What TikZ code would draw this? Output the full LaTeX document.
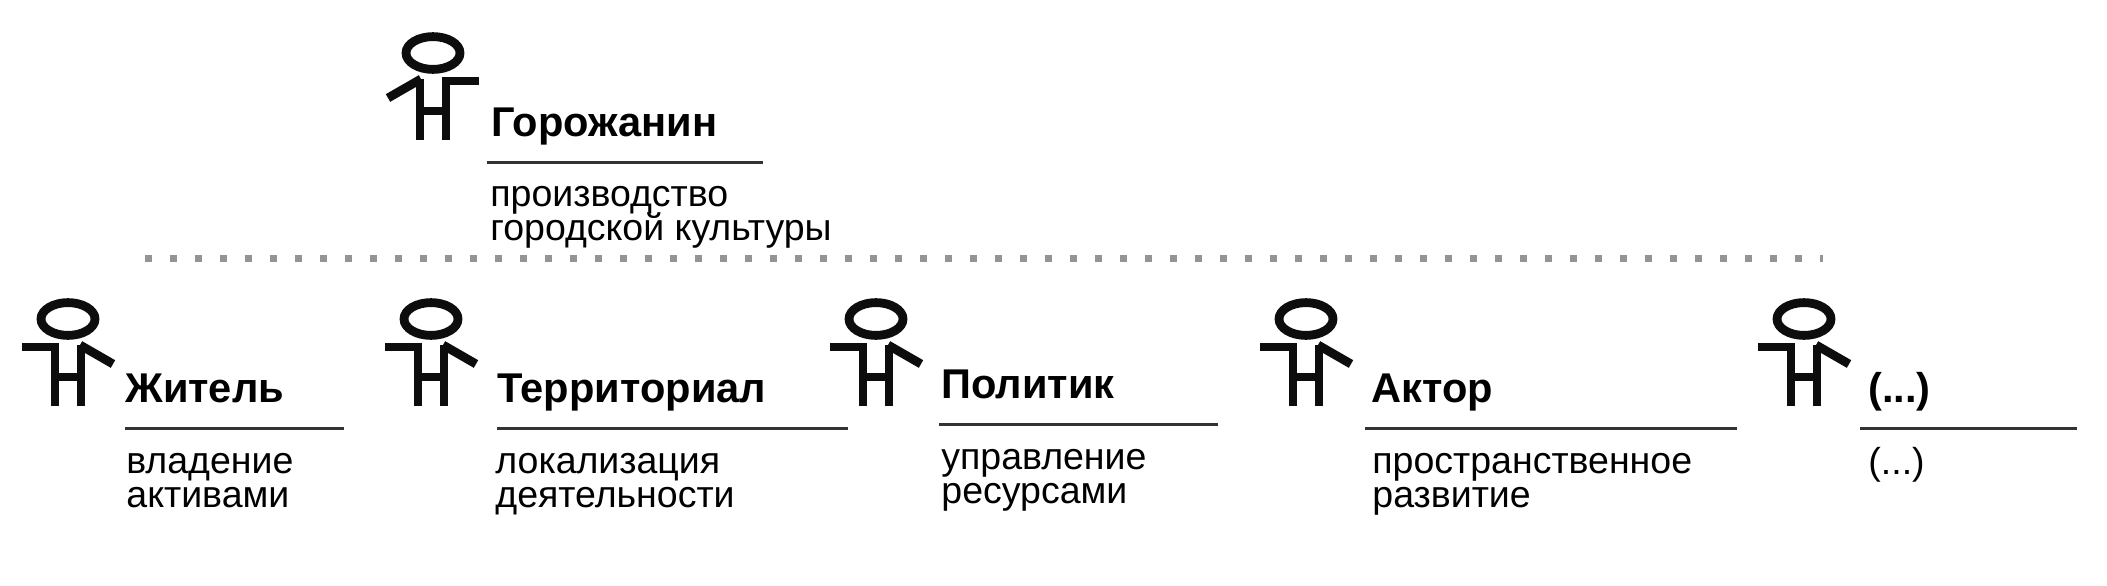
\documentclass[tikz,border=0pt]{standalone}
\usepackage{fontspec}
\setmainfont{Liberation Sans}
\setlength{\lineskiplimit}{-20pt}
\tikzset{
  x=0.5pt,y=-0.5pt,
  figline/.style={line width=4.4pt,line cap=butt,line join=miter,color=black!95},
  titletext/.style={anchor=base west,inner sep=0pt,font=\fontsize{20.8}{20}\selectfont\bfseries},
  bodytext/.style={anchor=base west,inner sep=0pt,align=left,font=\fontsize{18.75}{16.6}\selectfont},
  rulelne/.style={line width=1.5pt,color=black!80},
  sep/.style={line width=3.5pt,color=black!42,dash pattern=on 3.5pt off 9pt},
  pics/person/.style={code={
    \draw[figline] (0,0) ellipse [x radius=13.5pt,y radius=8.2pt];
    \draw[figline] (-13,26) -- (-13,87) (13,26) -- (13,87) (-13,58) -- (13,58);
    \draw[figline] (-46,28) -- (-9,28);
    \draw[figline] (12,26) -- (45,45);
  }}
}
\begin{document}
\begin{tikzpicture}
\useasboundingbox (0,0) rectangle (2107,585);
\fill[white] (0,0) rectangle (2107,585);
\coordinate (sepA) at (145,258); \coordinate (sepB) at (1823,258);
\draw[sep] (sepA) -- (sepB);
% figures
\pic[xscale=-1] (f0) at (433,53) {person};
\pic (f1) at (68,319) {person};
\pic (f2) at (431,319) {person};
\pic (f3) at (876,319) {person};
\pic (f4) at (1306,319) {person};
\pic (f5) at (1804,319) {person};
% titles
\node[titletext] (t0) at (491,136) {Горожанин};
\node[titletext] (t1) at (125,402) {Житель};
\node[titletext] (t2) at (497,402) {Территориал};
\node[titletext] (t3) at (941,398) {Политик};
\node[titletext] (t4) at (1371,402) {Актор};
\node[titletext] (t5) at (1868,402) {(...)};
% rules
\coordinate (r0a) at (487,162); \coordinate (r0b) at (763,162);
\coordinate (r1a) at (125,428); \coordinate (r1b) at (344,428);
\coordinate (r2a) at (497,428); \coordinate (r2b) at (848,428);
\coordinate (r3a) at (939,424); \coordinate (r3b) at (1218,424);
\coordinate (r4a) at (1365,428); \coordinate (r4b) at (1737,428);
\coordinate (r5a) at (1860,428); \coordinate (r5b) at (2077,428);
\foreach \i in {0,...,5} \draw[rulelne] (r\i a) -- (r\i b);
% bodies
\node[bodytext] (b0) at (490,240) {производство\\городской культуры};
\node[bodytext] (b1) at (126,507) {владение\\активами};
\node[bodytext] (b2) at (495,507) {локализация\\деятельности};
\node[bodytext] (b3) at (941,503) {управление\\ресурсами};
\node[bodytext] (b4) at (1372,507) {пространственное\\развитие};
\node[bodytext] (b5) at (1868,474) {(...)};
\end{tikzpicture}
\end{document}
